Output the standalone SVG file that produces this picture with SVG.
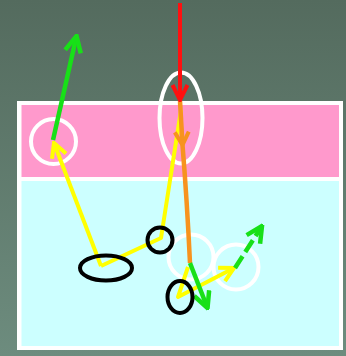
<svg xmlns="http://www.w3.org/2000/svg" width="346" height="356" viewBox="0 0 346 356">
<defs>
<linearGradient id="bg" x1="0" y1="0" x2="0" y2="1">
<stop offset="0" stop-color="#546b5e"/>
<stop offset="1" stop-color="#6d8c7e"/>
</linearGradient>
<marker id="mRed" viewBox="-18 -10 20 20" refX="0" refY="0" markerWidth="20" markerHeight="20" markerUnits="userSpaceOnUse" orient="auto"><path d="M-15,-7.5 L0,0 L-15,7.5" fill="none" stroke="#ff1010" stroke-width="4"/></marker>
<marker id="mOrange" viewBox="-18 -10 20 20" refX="0" refY="0" markerWidth="20" markerHeight="20" markerUnits="userSpaceOnUse" orient="auto"><path d="M-13,-7 L0,0 L-13,7" fill="none" stroke="#f7931e" stroke-width="4"/></marker>
<marker id="mYellow" viewBox="-18 -10 20 20" refX="0" refY="0" markerWidth="20" markerHeight="20" markerUnits="userSpaceOnUse" orient="auto"><path d="M-14,-7.5 L0,0 L-14,7.5" fill="none" stroke="#ffff00" stroke-width="4"/></marker>
<marker id="mGreen" viewBox="-18 -10 20 20" refX="0" refY="0" markerWidth="20" markerHeight="20" markerUnits="userSpaceOnUse" orient="auto"><path d="M-16,-8 L0,0 L-16,8" fill="none" stroke="#18e018" stroke-width="4.5"/></marker>
</defs>
<style>
.wht{fill:none;stroke:#ffffff;stroke-width:4}
.blk{fill:none;stroke:#000000;stroke-width:4}
.ray{fill:none;stroke-linejoin:round}
.y{stroke:#ffff00;stroke-width:4}
.o{stroke:#f7931e;stroke-width:4.5}
.r{stroke:#ff1010;stroke-width:4}
.g{stroke:#18e018;stroke-width:4.5}
</style>
<rect x="0" y="0" width="346" height="356" fill="url(#bg)"/>
<g id="tank">
<rect x="17" y="101" width="326" height="249" fill="#ffffff"/>
<rect x="21.5" y="105" width="317.5" height="72" fill="#ff99cc"/>
<rect x="21.5" y="181" width="317.5" height="165" fill="#ccffff"/>
</g>
<g id="highlights">
<circle id="circleLeft" class="wht" cx="53.5" cy="141.5" r="22.5"/>
<ellipse id="ellipseTop" class="wht" cx="181" cy="118" rx="21.5" ry="45.5"/>
<circle id="circleMid" class="wht" cx="191" cy="257" r="22.5"/>
<circle id="circleRight" class="wht" cx="236" cy="267" r="22.5"/>
</g>
<g id="connectors">
<polyline class="ray y" points="181,110 161,238 101,266"/>
<line class="ray y" x1="101" y1="266" x2="54" y2="143" marker-end="url(#mYellow)"/>
<polyline class="ray y" points="188,267 178,297 234,268" marker-end="url(#mYellow)"/>
<line class="ray o" x1="180" y1="101" x2="182.5" y2="145" marker-end="url(#mOrange)"/>
<path class="ray o" d="M182.5,145 Q187,200 190,263"/>
<line class="ray r" x1="180" y1="3" x2="180" y2="100" marker-end="url(#mRed)"/>
<line class="ray g" x1="53" y1="140" x2="76.5" y2="36" marker-end="url(#mGreen)"/>
<line class="ray g" x1="190" y1="263" x2="207.5" y2="308" marker-end="url(#mGreen)"/>
<line class="ray g" x1="235" y1="268" x2="262" y2="226" stroke-dasharray="14,5" marker-end="url(#mGreen)"/>
</g>
<g id="marks">
<ellipse id="ellipseA" class="blk" cx="106" cy="268" rx="26" ry="12.5"/>
<circle id="circleB" class="blk" cx="160" cy="240" r="12.5"/>
<ellipse id="ellipseC" class="blk" cx="180" cy="297" rx="12.5" ry="16"/>
</g>
</svg>
